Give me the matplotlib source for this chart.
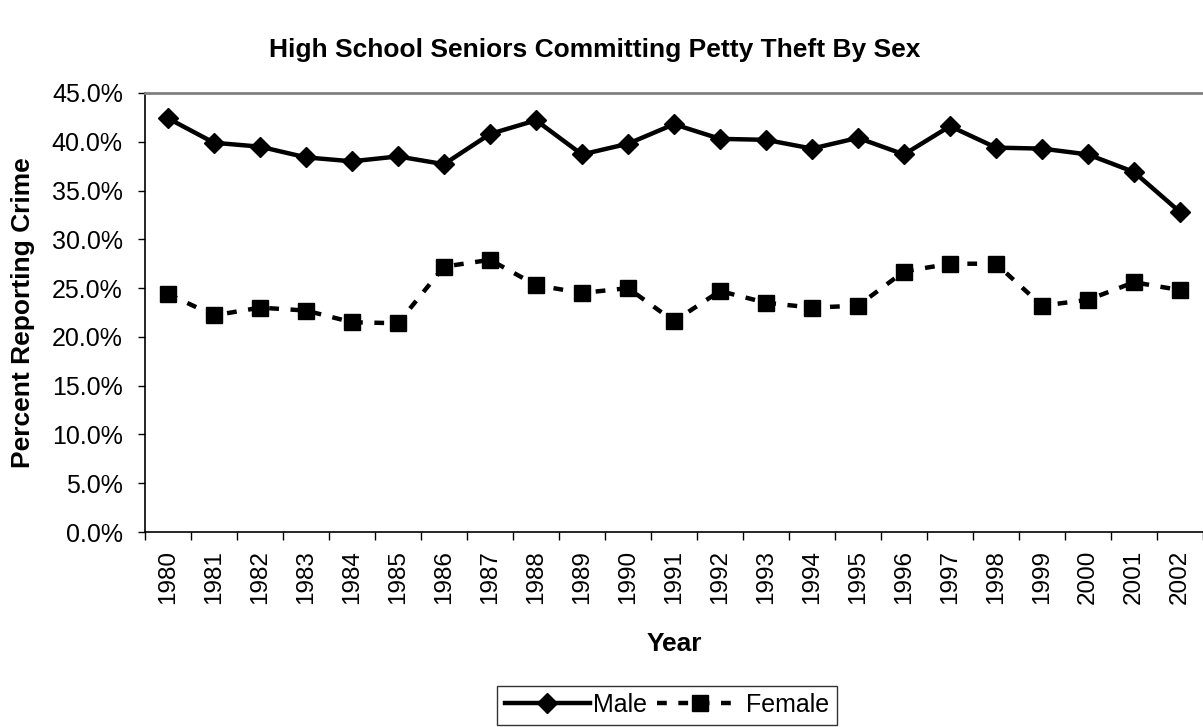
import matplotlib
matplotlib.use("Agg")
import matplotlib.pyplot as plt
from matplotlib.ticker import FuncFormatter, FixedLocator

plt.rcParams["font.family"] = ["Liberation Sans", "DejaVu Sans"]

years = list(range(1980, 2003))
male = [42.4, 39.9, 39.5, 38.4, 38.0, 38.5, 37.7, 40.8, 42.2, 38.7, 39.8, 41.8,
        40.3, 40.2, 39.3, 40.4, 38.7, 41.6, 39.4, 39.3, 38.7, 36.9, 32.8]
female = [24.4, 22.2, 23.0, 22.7, 21.5, 21.4, 27.2, 27.9, 25.3, 24.5, 25.0, 21.6,
          24.7, 23.5, 23.0, 23.2, 26.7, 27.5, 27.5, 23.2, 23.8, 25.6, 24.8]

W, H = 1203, 727
fig = plt.figure(figsize=(W / 100, H / 100), dpi=100)
# plot area in pixels: left 145, right 1203, top 93, bottom 532
ax = fig.add_axes([145 / W, 1 - 532 / H, (1203 - 145) / W, (532 - 93) / H])

x = list(range(len(years)))
ax.plot(x, male, "k-", lw=3.2, marker="D", ms=10.5, label="Male")
ax.plot(x, female, color="k", ls=(0, (2.2, 2.6)), lw=3.2, marker="s", ms=12,
        label="Female")

ax.set_xlim(-0.5, len(years) - 0.5)
ax.set_ylim(0, 45)
ax.set_yticks([i * 5 for i in range(10)])
ax.yaxis.set_major_formatter(FuncFormatter(lambda v, p: f"{v:.1f}%"))
ax.set_xticks(x)
ax.set_xticklabels([str(y) for y in years], rotation=90)
ax.xaxis.set_minor_locator(FixedLocator([i - 0.5 for i in range(len(years) + 1)]))
ax.tick_params(axis="x", which="major", length=0, labelsize=17.5, pad=13)
ax.tick_params(axis="x", which="minor", length=5.5, width=1, direction="out")
ax.tick_params(axis="y", labelsize=18, length=5, width=1, direction="out", pad=11)

for s in ["left", "bottom"]:
    ax.spines[s].set_color("#000000")
    ax.spines[s].set_linewidth(1.2)
ax.spines["top"].set_color("#808080")
ax.spines["top"].set_linewidth(2)
ax.spines["right"].set_visible(False)

ax.set_xlabel("Year", fontsize=19, fontweight="bold", labelpad=20)
ax.set_ylabel("Percent Reporting Crime", fontsize=19, fontweight="bold", labelpad=12)
fig.text(595 / W, 1 - 50 / H, "High School Seniors Committing Petty Theft By Sex",
         ha="center", va="center", fontsize=19, fontweight="bold")

leg = fig.legend(loc="center", bbox_to_anchor=(667 / W, 1 - 705 / H), ncol=2,
                 frameon=True, fancybox=False, fontsize=18, handlelength=3.4,
                 handletextpad=0.15, columnspacing=0.4, borderpad=0.3,
                 borderaxespad=0)
leg.get_frame().set_edgecolor("black")
leg.get_frame().set_linewidth(1)

fig.savefig("out.png", dpi=100)
